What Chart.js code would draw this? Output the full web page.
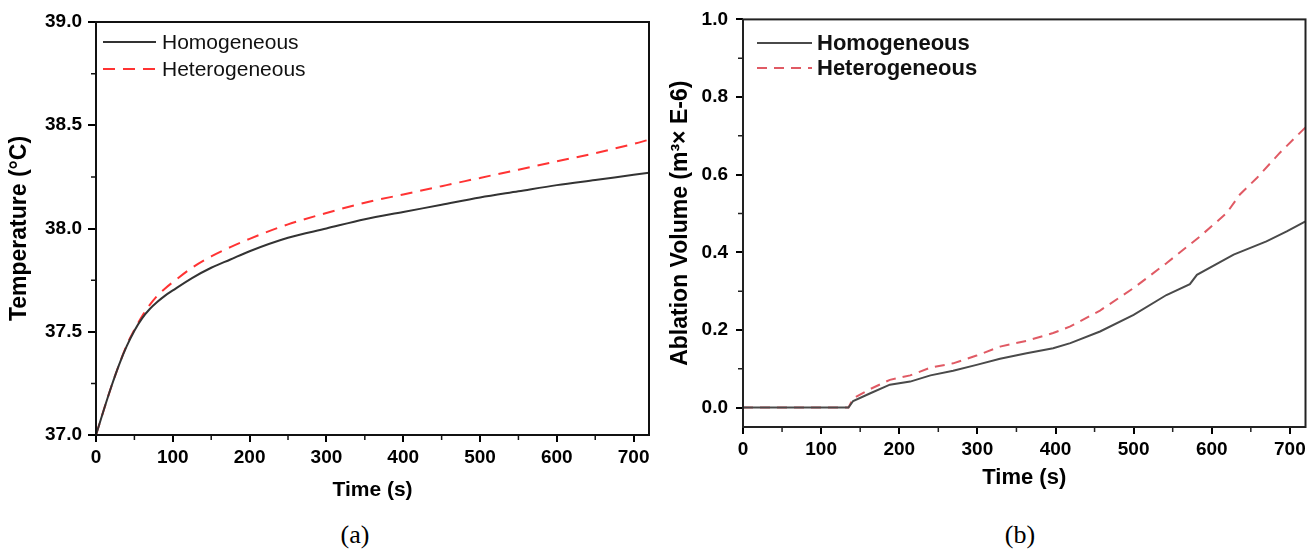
<!DOCTYPE html>
<html>
<head>
<meta charset="utf-8">
<script src="https://cdn.jsdelivr.net/npm/chart.js@4.4.0/dist/chart.umd.min.js"></script>
<style>
body{margin:0;background:#fff;width:1316px;height:552px;position:relative;overflow:hidden}
canvas{position:absolute;top:0}
#chartA{left:0}
#chartB{left:660px}
.cap{position:absolute;top:520px;width:80px;text-align:center;font:26px "Liberation Serif",serif;line-height:30px;color:#000}
</style>
</head>
<body>
<canvas id="chartA" width="660" height="520"></canvas>
<canvas id="chartB" width="656" height="520"></canvas>
<div class="cap" style="left:315px">(a)</div>
<div class="cap" style="left:980px">(b)</div>
<script>
// (a) temperature vs time
const tempTime = [0,10,20,30,40,50,60,70,80,90,100,125,150,175,200,250,300,350,400,450,500,550,600,650,700,720]
const homoTemp = [37.0,37.12,37.235,37.34,37.43,37.505,37.565,37.61,37.645,37.675,37.70,37.76,37.81,37.85,37.89,37.955,38.0,38.045,38.08,38.115,38.15,38.18,38.21,38.235,38.26,38.27]
const heteroTemp = [37.0,37.12,37.235,37.34,37.435,37.51,37.575,37.63,37.675,37.71,37.74,37.81,37.865,37.91,37.95,38.02,38.075,38.125,38.165,38.205,38.245,38.285,38.325,38.365,38.41,38.43]

// (b) ablation volume vs time
const homoVolTime = [0,135,141,163,188,214,240,269,299,329,363,397,419,457,500,542,572,581,628,670,696,720]
const homoVol = [0,0,0.017,0.037,0.059,0.067,0.083,0.095,0.110,0.126,0.140,0.153,0.166,0.196,0.239,0.290,0.318,0.342,0.394,0.428,0.454,0.480]
const heteroVolTime = [0,135,141,163,188,214,240,269,299,329,363,397,419,457,500,542,585,619,636,658,687,720]
const heteroVol = [0,0,0.024,0.048,0.0715,0.083,0.103,0.114,0.134,0.157,0.172,0.192,0.209,0.250,0.308,0.372,0.441,0.501,0.549,0.592,0.656,0.722]

const seriesLabels = ['Homogeneous','Heterogeneous']
const timeTicks = [0,100,200,300,400,500,600,700]
const tempTicks = [37.0,37.5,38.0,38.5,39.0]
const volTicks = [0.0,0.2,0.4,0.6,0.8,1.0]

Chart.defaults.font.family = '"Liberation Sans", Arial, sans-serif'
Chart.defaults.color = '#000'

function pts(xs, ys){
    return xs.map((x,i)=>({x:x, y:ys[i]}))
}

// box round the plot, short minor ticks and the legend inside the plot
const framePlugin = {
    id: 'framePlugin',
    afterDraw(chart, args, opts){
        const ctx = chart.ctx
        const a = chart.chartArea
        ctx.save()
        ctx.strokeStyle = opts.frameColor
        ctx.lineWidth = 2
        ctx.strokeRect(a.left, a.top, a.right - a.left, a.bottom - a.top)

        ctx.lineWidth = 1.5
        ctx.beginPath()
        const xs = chart.scales.x, ys = chart.scales.y
        for (let k = Math.ceil(xs.min/opts.xMinor); k*opts.xMinor <= xs.max; k++){
            if (k % 2 === 0) continue
            const px = xs.getPixelForValue(k*opts.xMinor)
            ctx.moveTo(px, a.bottom); ctx.lineTo(px, a.bottom + 5)
        }
        for (let k = Math.ceil(ys.min/opts.yMinor - 1e-9); k*opts.yMinor <= ys.max + 1e-9; k++){
            if (Math.abs(Math.round(k*opts.yMinor/opts.yMajor) - k*opts.yMinor/opts.yMajor) < 1e-6) continue
            const py = ys.getPixelForValue(k*opts.yMinor)
            ctx.moveTo(a.left, py); ctx.lineTo(a.left - 5, py)
        }
        ctx.stroke()

        // legend
        const lg = opts.legend
        ctx.font = lg.font
        ctx.textBaseline = 'middle'
        ctx.textAlign = 'left'
        chart.data.datasets.forEach((ds, i)=>{
            const y = a.top + lg.top + i*lg.gap
            ctx.strokeStyle = ds.borderColor
            ctx.lineWidth = ds.borderWidth
            ctx.setLineDash(ds.borderDash || [])
            ctx.beginPath()
            ctx.moveTo(a.left + lg.x0, y); ctx.lineTo(a.left + lg.x1, y)
            ctx.stroke()
            ctx.setLineDash([])
            ctx.fillStyle = '#111'
            ctx.fillText(ds.label, a.left + lg.tx, y + 1)
        })
        ctx.restore()
    }
}

function setTicks(list){
    return function(s){ s.ticks = list.map(v=>({value: v})) }
}

function axisX(h, titleSize, titlePad, tickPad){
    return {
        type: 'linear', min: 0, max: 720,
        afterFit(s){ s.height = h },
        afterBuildTicks: setTicks(timeTicks),
        ticks: {padding: tickPad, maxRotation: 0,
                font: {size: 19, weight: 'bold'}, color: '#000'},
        grid: {drawOnChartArea: false, tickLength: 7, color: '#000', lineWidth: 2},
        border: {display: false},
        title: {display: true, text: 'Time (s)', color: '#000',
                font: {size: titleSize, weight: 'bold'}, padding: {top: 0, bottom: titlePad}}
    }
}

new Chart(document.getElementById('chartA'), {
    type: 'line',
    data: {
        datasets: [
            {label: seriesLabels[0], data: pts(tempTime, homoTemp), borderColor: '#333333',
             borderWidth: 2, pointRadius: 0, cubicInterpolationMode: 'monotone'},
            {label: seriesLabels[1], data: pts(tempTime, heteroTemp), borderColor: '#ff3333',
             borderWidth: 2, borderDash: [12, 8], pointRadius: 0, cubicInterpolationMode: 'monotone'}
        ]
    },
    options: {
        responsive: false, animation: false, devicePixelRatio: 1,
        layout: {padding: {left: 0, right: 11, top: 22, bottom: 0}},
        plugins: {
            legend: {display: false}, tooltip: {enabled: false},
            framePlugin: {frameColor: '#111', xMinor: 50, yMinor: 0.25, yMajor: 0.5,
                legend: {font: '21px "Liberation Sans", Arial, sans-serif', top: 20, gap: 27, x0: 7, x1: 60, tx: 66}}
        },
        scales: {
            x: axisX(85, 21, 17, 4.5),
            y: {
                min: 37, max: 39,
                afterFit(s){ s.width = 96 },
                afterBuildTicks: setTicks(tempTicks),
                ticks: {padding: 6, callback: v => v.toFixed(1),
                        font: {size: 19, weight: 'bold'}, color: '#000'},
                grid: {drawOnChartArea: false, tickLength: 8, color: '#000', lineWidth: 2},
                border: {display: false},
                title: {display: true, text: 'Temperature (°C)', color: '#000',
                        font: {size: 23, weight: 'bold'}, padding: {top: 6, bottom: 0}}
            }
        }
    },
    plugins: [framePlugin]
})

new Chart(document.getElementById('chartB'), {
    type: 'line',
    data: {
        datasets: [
            {label: seriesLabels[0], data: pts(homoVolTime, homoVol), borderColor: '#4a4a4a',
             borderWidth: 2, pointRadius: 0, tension: 0},
            {label: seriesLabels[1], data: pts(heteroVolTime, heteroVol), borderColor: '#e05a64',
             borderWidth: 2, borderDash: [10, 7], pointRadius: 0, tension: 0}
        ]
    },
    options: {
        responsive: false, animation: false, devicePixelRatio: 1,
        layout: {padding: {left: 0, right: 10.5, top: 18, bottom: 0}},
        plugins: {
            legend: {display: false}, tooltip: {enabled: false},
            framePlugin: {frameColor: '#222', xMinor: 50, yMinor: 0.1, yMajor: 0.2,
                legend: {font: 'bold 22px "Liberation Sans", Arial, sans-serif', top: 23.7, gap: 25, x0: 14, x1: 69, tx: 74}}
        },
        scales: {
            x: axisX(93, 22, 29, 4),
            y: {
                min: -0.05, max: 1.0,
                afterFit(s){ s.width = 83 },
                afterBuildTicks: setTicks(volTicks),
                ticks: {padding: 8, callback: v => v.toFixed(1),
                        font: {size: 19, weight: 'bold'}, color: '#000'},
                grid: {drawOnChartArea: false, tickLength: 7, color: '#000', lineWidth: 2},
                border: {display: false},
                title: {display: true, text: 'Ablation Volume (m³× E-6)', color: '#000',
                        font: {size: 23, weight: 'bold'}, padding: {top: 7, bottom: 0}}
            }
        }
    },
    plugins: [framePlugin]
})
</script>
</body>
</html>
